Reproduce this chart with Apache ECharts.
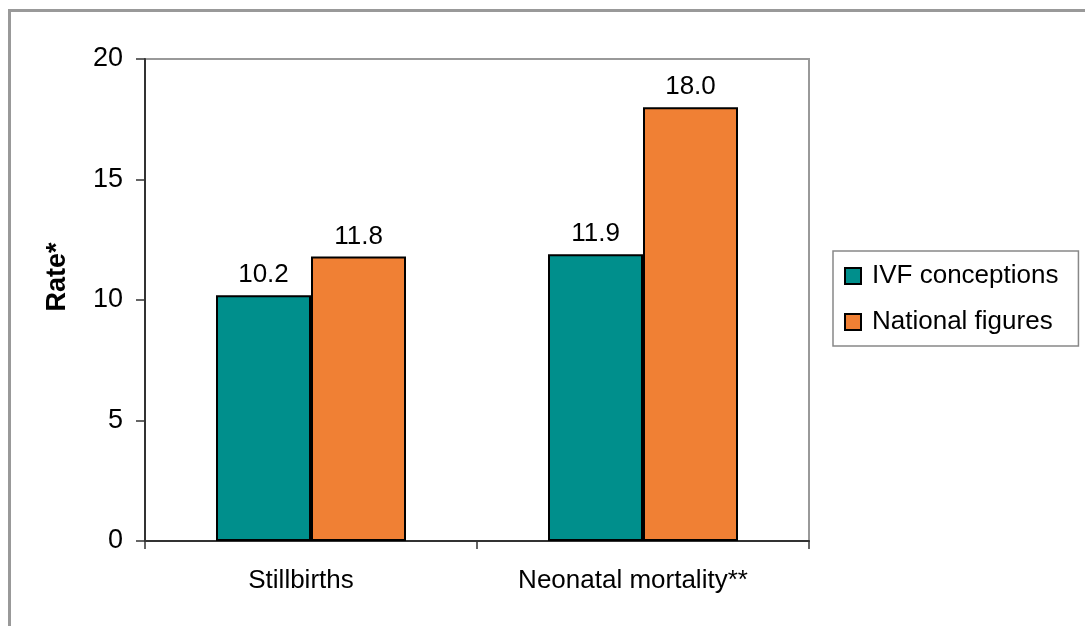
<!DOCTYPE html>
<html>
<head>
<meta charset="utf-8">
<script src="https://cdn.jsdelivr.net/npm/echarts@6/dist/echarts.min.js"></script>
<style>
  html, body { margin: 0; padding: 0; background: #fff; }
  #chart { width: 1085px; height: 626px; }
</style>
</head>
<body>
<div id="chart"></div>
<script>
// Outcome rates per group
const categories = ['Stillbirths', 'Neonatal mortality**'];
const seriesNames = ['IVF conceptions', 'National figures'];
const ivfValues = [10.2, 11.9];
const nationalValues = [11.8, 18.0];
const yTicks = { min: 0, max: 20, interval: 5 };
const yAxisTitle = 'Rate*';

const FONT = '"Liberation Sans", Arial, sans-serif';
const chart = echarts.init(document.getElementById('chart'), null, { renderer: 'canvas' });

const barLabel = {
  show: true,
  position: 'top',
  distance: 7,
  color: '#000',
  fontFamily: FONT,
  fontSize: 26,
  formatter: p => p.value.toFixed(1)
};

chart.setOption({
  animation: false,
  backgroundColor: '#fff',
  textStyle: { fontFamily: FONT, color: '#000' },
  graphic: [
    {
      type: 'rect',
      shape: { x: 9.5, y: 10.5, width: 1200, height: 800 },
      style: { fill: 'none', stroke: '#999', lineWidth: 3 },
      silent: true,
      z: 0
    },
    {
      type: 'text',
      x: 58,
      y: 277,
      rotation: Math.PI / 2,
      style: {
        text: yAxisTitle,
        font: 'bold 27px ' + FONT,
        fill: '#000',
        align: 'center',
        verticalAlign: 'middle'
      }
    }
  ],
  grid: {
    left: 145, right: 276, top: 59, bottom: 85,
    show: true,
    borderColor: '#999',
    borderWidth: 2,
    backgroundColor: 'transparent'
  },
  legend: {
    orient: 'vertical',
    left: 833,
    top: 251,
    data: seriesNames,
    icon: 'rect',
    itemWidth: 16,
    itemHeight: 16,
    itemGap: 20,
    padding: [12, 20, 11, 11],
    borderColor: '#888',
    borderWidth: 1.5,
    textStyle: {
      fontFamily: FONT,
      fontSize: 26,
      lineHeight: 26,
      color: '#000',
      padding: [0, 0, 0, 6]
    }
  },
  xAxis: {
    type: 'category',
    data: categories,
    axisLine: { lineStyle: { color: '#333', width: 2 } },
    axisTick: { show: true, length: 8, lineStyle: { color: '#333', width: 1.5 } },
    axisLabel: {
      fontFamily: FONT, fontSize: 26, color: '#000', margin: 27,
      padding: [0, 20, 0, 0]
    },
    splitLine: { show: false }
  },
  yAxis: {
    type: 'value',
    min: yTicks.min,
    max: yTicks.max,
    interval: yTicks.interval,
    axisLine: { show: true, lineStyle: { color: '#333', width: 2 } },
    axisTick: { show: true, length: 9, lineStyle: { color: '#333', width: 1.5 } },
    axisLabel: { fontFamily: FONT, fontSize: 27, color: '#000', margin: 22 },
    splitLine: { show: false }
  },
  series: [
    {
      name: seriesNames[0],
      type: 'bar',
      data: ivfValues,
      barWidth: 95,
      barGap: '0%',
      itemStyle: { color: '#008F8C', borderColor: '#000', borderWidth: 2 },
      label: barLabel
    },
    {
      name: seriesNames[1],
      type: 'bar',
      data: nationalValues,
      barWidth: 95,
      barGap: '0%',
      itemStyle: { color: '#F08034', borderColor: '#000', borderWidth: 2 },
      label: barLabel
    }
  ]
});
</script>
</body>
</html>
